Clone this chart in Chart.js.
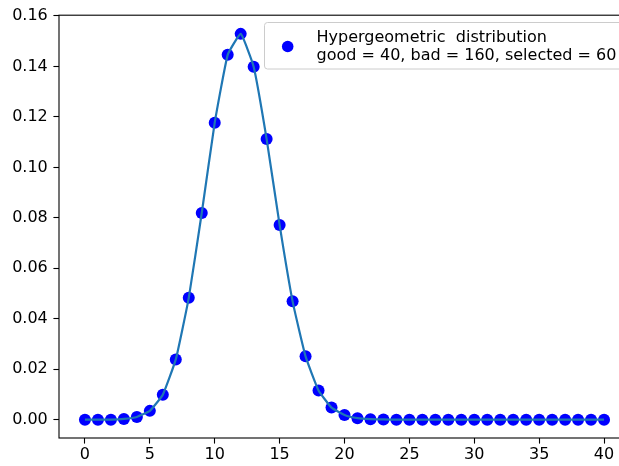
<!DOCTYPE html>
<html>
<head>
<meta charset="utf-8">
<script src="https://cdn.jsdelivr.net/npm/chart.js@4.4.1/dist/chart.umd.min.js"></script>
<style>
  html, body { margin: 0; padding: 0; background: #fff; overflow: hidden; }
  #wrap { width: 640px; height: 466px; }
</style>
</head>
<body>
<div id="wrap"><canvas id="chart" width="640" height="466"></canvas></div>
<script>
'use strict';

// number of good items drawn, 0..40
const successes = [0, 1, 2, 3, 4, 5, 6, 7, 8, 9, 10, 11, 12, 13, 14, 15, 16, 17, 18, 19, 20,
  21, 22, 23, 24, 25, 26, 27, 28, 29, 30, 31, 32, 33, 34, 35, 36, 37, 38, 39, 40];
// probabilities
const probabilities = [0, 0, 0.00001, 0.0003, 0.0011, 0.0035, 0.0099, 0.0239, 0.0483, 0.0819,
  0.1177, 0.1446, 0.1529, 0.1399, 0.1112, 0.0772, 0.0469, 0.0251, 0.0116, 0.0048,
  0.0019, 0.0006, 0.0002, 0.0001, 0, 0, 0, 0, 0, 0,
  0, 0, 0, 0, 0, 0, 0, 0, 0, 0, 0];
const xTicks = [0, 5, 10, 15, 20, 25, 30, 35, 40];
const yTicks = [0, 0.02, 0.04, 0.06, 0.08, 0.10, 0.12, 0.14, 0.16];
const legendLines = ['Hypergeometric  distribution', 'good = 40, bad = 160, selected = 60'];

const FONT = 'DejaVu Sans';
const FONT_SIZE = 16;

let points = successes.map((x, i) => ({ x: x, y: probabilities[i] }));

// draws all four spines and the legend box like matplotlib
const frameAndLegend = {
  id: 'frameAndLegend',
  afterDraw(chart) {
    const ctx = chart.ctx;
    const a = chart.chartArea;
    ctx.save();
    ctx.strokeStyle = '#000';
    ctx.lineWidth = 1.1;
    ctx.strokeRect(a.left, a.top, a.right - a.left, a.bottom - a.top);

    // legend
    let lx = 264.5, ly = 22.5, lw = 360, lh = 46.5;
    ctx.fillStyle = 'rgba(255,255,255,0.8)';
    ctx.strokeStyle = '#cccccc';
    ctx.lineWidth = 1;
    ctx.beginPath();
    ctx.roundRect(lx, ly, lw, lh, 3);
    ctx.fill();
    ctx.stroke();

    ctx.fillStyle = '#0000ff';
    ctx.beginPath();
    ctx.arc(287.7, 46.5, 5.8, 0, Math.PI * 2);
    ctx.fill();

    ctx.fillStyle = '#000';
    ctx.font = FONT_SIZE + 'px "' + FONT + '"';
    ctx.textBaseline = 'alphabetic';
    ctx.textAlign = 'left';
    ctx.fillText(legendLines[0], 316.5, 42.3);
    ctx.fillText(legendLines[1], 316.5, 60);
    ctx.restore();
  }
};

const canvasEl = document.getElementById('chart');

new Chart(canvasEl, {
  type: 'scatter',
  data: {
    datasets: [{
      label: 'line',
      data: points,
      showLine: true,
      borderColor: '#1f77b4',
      borderWidth: 2.2,
      pointRadius: 0,
      tension: 0.12,
      order: 1
    }, {
      label: legendLines[0],
      data: points,
      showLine: false,
      backgroundColor: '#0000ff',
      borderColor: '#0000ff',
      pointRadius: 6,
      borderWidth: 0,
      order: 2
    }]
  },
  options: {
    responsive: false,
    animation: false,
    devicePixelRatio: 1,
    layout: { padding: { top: 15, right: 10, left: 0, bottom: 0 } },
    plugins: {
      legend: { display: false },
      tooltip: { enabled: false }
    },
    scales: {
      x: {
        type: 'linear',
        min: -2,
        max: 42,
        afterBuildTicks: scale => { scale.ticks = xTicks.map(v => ({ value: v })); },
        afterFit: scale => { scale.height = 28; },
        border: { display: false },
        grid: { drawOnChartArea: false, drawTicks: true, tickLength: 5.6, tickColor: '#000', tickWidth: 1.1 },
        ticks: {
          color: '#000',
          padding: 2,
          maxRotation: 0,
          font: { family: FONT, size: FONT_SIZE },
          callback: v => String(v)
        }
      },
      y: {
        type: 'linear',
        min: -0.00725,
        max: 0.1603,
        afterBuildTicks: scale => { scale.ticks = yTicks.map(v => ({ value: v })); },
        afterFit: scale => { scale.width = 59; },
        border: { display: false },
        grid: { drawOnChartArea: false, drawTicks: true, tickLength: 5.6, tickColor: '#000', tickWidth: 1.1 },
        ticks: {
          color: '#000',
          padding: 5.6,
          font: { family: FONT, size: FONT_SIZE },
          callback: v => Number(v).toFixed(2)
        }
      }
    }
  },
  plugins: [frameAndLegend]
});
</script>
</body>
</html>
